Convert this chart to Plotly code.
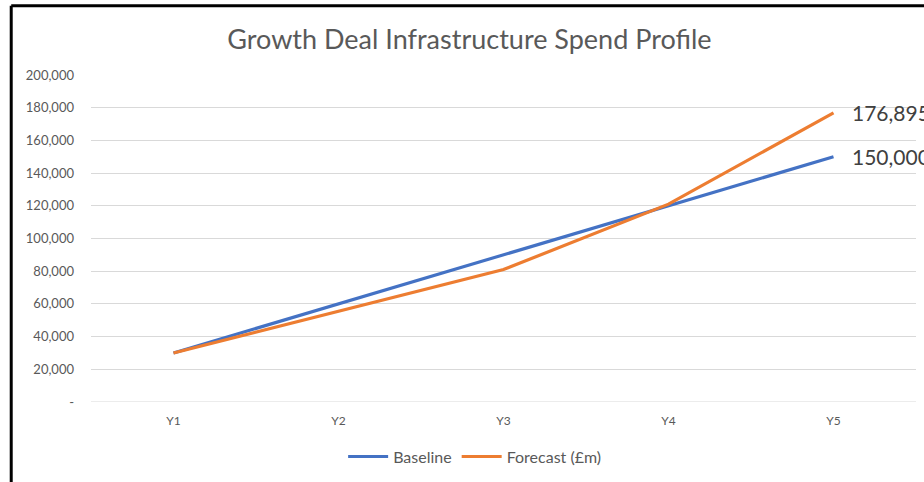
import plotly.graph_objects as go

categories = ["Y1", "Y2", "Y3", "Y4", "Y5"]
baseline = [30000, 60000, 90000, 120000, 150000]
forecast = [30000, 55500, 81000, 121000, 176895]
y_tickvals = [0, 20000, 40000, 60000, 80000, 100000, 120000, 140000, 160000, 180000, 200000]
y_ticktext = ["-"] + [f"{v:,}" for v in y_tickvals[1:]]

FONT = "Lato"
GREY = "#595959"

fig = go.Figure()
fig.add_trace(go.Scatter(x=categories, y=baseline, mode="lines", name="Baseline",
                         line=dict(color="#4472C4", width=3.2)))
fig.add_trace(go.Scatter(x=categories, y=forecast, mode="lines", name="Forecast (£m)",
                         line=dict(color="#ED7D31", width=3.2)))

for series in (forecast, baseline):
    fig.add_annotation(x=categories[-1], y=series[-1], text=f"{series[-1]:,}",
                       showarrow=False, xanchor="left", yanchor="middle", xshift=16,
                       font=dict(family=FONT, size=21, color="#404040"))

fig.update_layout(
    width=924, height=482,
    margin=dict(l=91, r=8, t=75, b=78),
    paper_bgcolor="white", plot_bgcolor="white",
    title=dict(text="Growth Deal Infrastructure Spend Profile", x=0.508, xanchor="center",
               y=0.917, yanchor="middle", font=dict(family=FONT, size=27, color=GREY)),
    font=dict(family=FONT, color=GREY),
    showlegend=True,
    legend=dict(orientation="h", x=0.465, xanchor="center", y=-0.167, yanchor="middle",
                font=dict(family=FONT, size=16, color=GREY), itemwidth=40),
    xaxis=dict(range=[-0.5, 4.5], showgrid=False, showline=False, zeroline=False,
               tickfont=dict(family=FONT, size=12, color=GREY), ticks="", ticklabelstandoff=10),
    yaxis=dict(range=[0, 200000], tickvals=y_tickvals, ticktext=y_ticktext,
               showgrid=True, gridcolor="#D9D9D9", gridwidth=1, zeroline=False, showline=False,
               tickfont=dict(family=FONT, size=13, color=GREY), ticks="", ticklabelstandoff=16),
    shapes=[
        dict(type="line", xref="paper", yref="paper", x0=-0.0967, x1=-0.0967, y0=1.212, y1=-0.3,
             line=dict(color="black", width=3)),
        dict(type="line", xref="paper", yref="paper", x0=-0.0967, x1=1.1, y0=1.212, y1=1.212,
             line=dict(color="black", width=3)),
        dict(type="line", xref="paper", yref="y", x0=0, x1=1, y0=0, y1=0,
             line=dict(color="#D9D9D9", width=1), layer="below"),
    ],
)

fig.write_html("out.html", config={"displayModeBar": False},
               post_script="document.body.style.margin='0px';")
